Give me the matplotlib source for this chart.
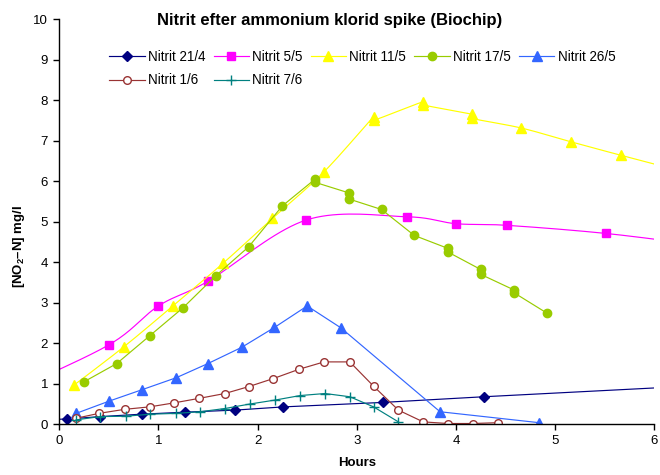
import matplotlib
matplotlib.use('Agg')
import matplotlib.pyplot as plt
import numpy as np

plt.rcParams['font.family'] = ['Liberation Sans', 'DejaVu Sans']
plt.rcParams['mathtext.fontset'] = 'custom'
plt.rcParams['mathtext.rm'] = 'Liberation Sans'
plt.rcParams['mathtext.bf'] = 'Liberation Sans:bold'

# Nitrit data (hours, mg/l)
x_2104 = [-0.5, 0.08, 0.41, 0.83, 1.27, 1.77, 2.26, 3.26, 4.28, 6.5]
y_2104 = [0.10, 0.13, 0.19, 0.25, 0.30, 0.35, 0.43, 0.54, 0.68, 0.96]

x_0505 = [-0.5, 0.50, 1.00, 1.50, 2.49, 3.51, 4.00, 4.51, 5.51, 6.5]
y_0505 = [0.80, 1.96, 2.92, 3.53, 5.04, 5.12, 4.95, 4.91, 4.71, 4.41]

x_1105 = [0.15, 0.65, 1.15, 1.65, 2.15, 2.67, 3.17, 3.17, 3.67, 3.67, 4.16, 4.16, 4.66, 5.16, 5.66, 6.16]
y_1105 = [0.97, 1.91, 2.93, 3.97, 5.08, 6.23, 7.59, 7.50, 7.96, 7.88, 7.65, 7.55, 7.31, 6.97, 6.64, 6.32]

x_1705 = [0.25, 0.58, 0.91, 1.25, 1.58, 1.91, 2.25, 2.58, 2.58, 2.92, 2.92, 3.25, 3.58, 3.92, 3.92, 4.25, 4.25, 4.59, 4.59, 4.92]
y_1705 = [1.05, 1.50, 2.18, 2.88, 3.67, 4.38, 5.39, 6.05, 5.97, 5.71, 5.56, 5.30, 4.66, 4.34, 4.25, 3.82, 3.70, 3.31, 3.24, 2.74]

x_2605 = [0.17, 0.50, 0.83, 1.18, 1.50, 1.84, 2.17, 2.50, 2.84, 3.84, 4.84]
y_2605 = [0.27, 0.57, 0.85, 1.15, 1.50, 1.90, 2.39, 2.92, 2.38, 0.31, 0.04]

x_0106 = [0.17, 0.40, 0.66, 0.91, 1.16, 1.41, 1.67, 1.91, 2.16, 2.42, 2.67, 2.93, 3.17, 3.42, 3.67, 3.92, 4.17, 4.42]
y_0106 = [0.15, 0.27, 0.37, 0.43, 0.53, 0.64, 0.76, 0.93, 1.13, 1.36, 1.54, 1.54, 0.94, 0.35, 0.06, 0.02, 0.02, 0.04]

x_0706 = [0.17, 0.41, 0.67, 0.92, 1.18, 1.42, 1.67, 1.92, 2.18, 2.43, 2.68, 2.93, 3.17, 3.42]
y_0706 = [0.11, 0.19, 0.20, 0.25, 0.27, 0.31, 0.39, 0.50, 0.60, 0.71, 0.76, 0.68, 0.43, 0.06]


def smooth(x, y, n=20, sx=99.0, sy=40.5):
    # Excel-style smoothed line: Bezier segments, tension 1/6,
    # control arms limited to half the segment length (in pixel space)
    pts = np.column_stack([x, y]).astype(float)
    P = np.vstack([pts[0], pts, pts[-1]])
    scale = np.array([sx, sy])
    d = lambda a, b: np.hypot(*((b - a) * scale))
    t = np.linspace(0, 1, n, endpoint=False)[:, None]
    segs = []
    for i in range(1, len(P) - 2):
        p0, p1, p2, p3 = P[i - 1], P[i], P[i + 1], P[i + 2]
        d12, d02, d13 = d(p1, p2), d(p0, p2), d(p1, p3)
        f1 = f2 = 1 / 6
        if d02 / 6 >= d12 / 2 and d02 > 0:
            f1 = d12 / d02 / 2
        if d13 / 6 >= d12 / 2 and d13 > 0:
            f2 = d12 / d13 / 2
        c1 = p1 + (p2 - p0) * f1
        c2 = p2 - (p3 - p1) * f2
        segs.append((1 - t) ** 3 * p1 + 3 * (1 - t) ** 2 * t * c1
                    + 3 * (1 - t) * t ** 2 * c2 + t ** 3 * p2)
    segs.append(pts[-1:])
    c = np.vstack(segs)
    return c[:, 0], c[:, 1]


# name, x, y, colour, marker, size, face colour, smoothed line
series = [
    ('Nitrit 21/4', x_2104, y_2104, '#000080', 'D', 5.0, '#000080', False),
    ('Nitrit 5/5', x_0505, y_0505, '#FF00FF', 's', 6.0, '#FF00FF', True),
    ('Nitrit 11/5', x_1105, y_1105, '#FFFF00', '^', 7.5, '#FFFF00', True),
    ('Nitrit 17/5', x_1705, y_1705, '#99CC00', 'o', 6.0, '#99CC00', False),
    ('Nitrit 26/5', x_2605, y_2605, '#3366FF', '^', 7.5, '#3366FF', False),
    ('Nitrit 1/6', x_0106, y_0106, '#993333', 'o', 5.5, 'white', False),
    ('Nitrit 7/6', x_0706, y_0706, '#008080', '+', 7.0, '#008080', False),
]

fig = plt.figure(figsize=(6.6, 4.75), dpi=100)
ax = fig.add_axes([0.0898, 0.1067, 0.9015, 0.8533])

handles = {}
for name, xs, ys, col, mk, ms, fc, sm in series:
    if sm:
        lx, ly = smooth(xs, ys)
    else:
        lx, ly = xs, ys
    ax.plot(lx, ly, color=col, lw=0.85)
    ax.plot(xs, ys, ls='none', marker=mk, ms=ms, color=col,
            markerfacecolor=fc, markeredgecolor=col, mew=1.0)
    h, = ax.plot([], [], color=col, lw=0.85, marker=mk, ms=ms,
                 markerfacecolor=fc, markeredgecolor=col, mew=1.0)
    handles[name] = h

ax.set_xlim(0, 6)
ax.set_ylim(0, 10)
ax.set_xticks(range(0, 7))
ax.set_yticks(range(0, 11))
for s in ['top', 'right']:
    ax.spines[s].set_visible(False)
for s in ['left', 'bottom']:
    ax.spines[s].set_linewidth(1.0)
ax.tick_params(direction='out', length=4, width=1.0, labelsize=9.5, pad=4)

ax.set_xlabel('Hours', fontsize=9.5, fontweight='bold', labelpad=7)
ax.set_ylabel(r'[NO$_\mathbf{2}$–N] mg/l', fontsize=9.5, fontweight='bold')
ax.yaxis.set_label_coords(-0.054, 0.44)
fig.text(0.5, 0.956, 'Nitrit efter ammonium klorid spike (Biochip)',
         ha='center', va='center', fontsize=12, fontweight='bold')

names = [s[0] for s in series]
order = [names[0], names[5], names[1], names[6], names[2], names[3], names[4]]
ax.legend([handles[n] for n in order], order, ncol=5, loc='upper left',
          bbox_to_anchor=(0.075, 0.937), frameon=False, fontsize=9.75,
          numpoints=1, handlelength=2.6, handletextpad=0.25,
          columnspacing=0.6, labelspacing=0.7, borderaxespad=0)

fig.savefig('out.png', dpi=100)
